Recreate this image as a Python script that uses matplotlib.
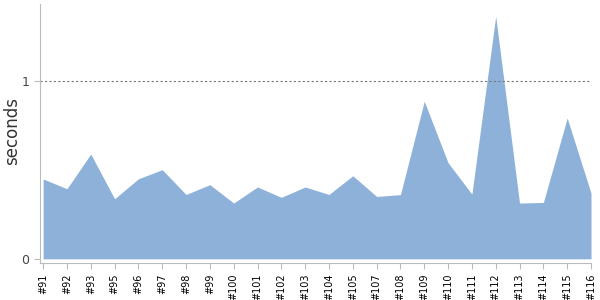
import matplotlib
matplotlib.use("Agg")
import matplotlib.pyplot as plt

# build labels and durations (seconds)
builds = ['#91', '#92', '#93', '#95', '#96', '#97', '#98', '#99', '#100', '#101',
          '#102', '#103', '#104', '#105', '#107', '#108', '#109', '#110', '#111',
          '#112', '#113', '#114', '#115', '#116']
seconds = [0.448, 0.393, 0.588, 0.337, 0.449, 0.500, 0.361, 0.416, 0.313, 0.403,
           0.345, 0.403, 0.361, 0.466, 0.350, 0.360, 0.884, 0.539, 0.363,
           1.361, 0.313, 0.316, 0.790, 0.369]
threshold = 1

fig = plt.figure(figsize=(6, 3), dpi=100)
ax = fig.add_axes([0.0667, 0.123, 0.9183, 0.864])

x = list(range(len(builds)))
ax.fill_between(x, 0, seconds, color='#8eb1da', linewidth=0)
ax.axhline(threshold, color='#777777', linestyle=(0, (2, 2)), linewidth=0.8)

ax.set_xlim(-0.13, len(builds) - 1)
ax.set_ylim(-0.024, 1.43)
ax.set_xticks(x)
ax.set_xticklabels(builds, rotation=90, fontsize=7, color='black')
ax.set_yticks([0, 1])
ax.set_yticklabels(['0', '1'], fontsize=9, color='#444444')
ax.set_ylabel('seconds', fontsize=12, color='#333333')
ax.yaxis.set_label_coords(-0.035, 0.51)

for side in ['top', 'right']:
    ax.spines[side].set_visible(False)
for side in ['left', 'bottom']:
    ax.spines[side].set_color('#bbbbbb')
ax.tick_params(axis='both', colors='#bbbbbb', length=4, width=0.8)
for lbl in ax.get_xticklabels():
    lbl.set_color('black')
for lbl in ax.get_yticklabels():
    lbl.set_color('#444444')

fig.savefig('out.png', dpi=100)
